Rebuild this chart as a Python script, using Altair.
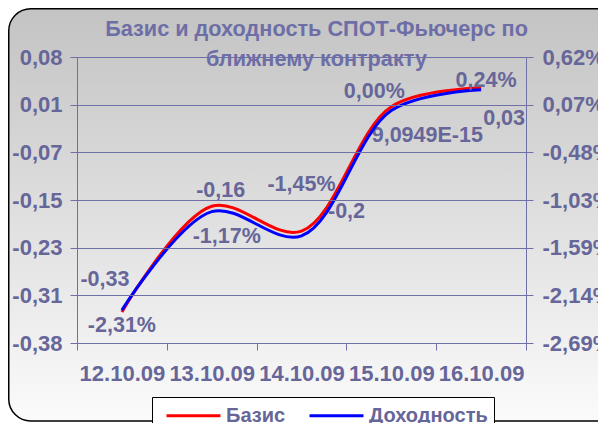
import json
import altair as alt
import numpy as np
import pandas as pd

# ---------------- data ----------------
DATES = ["12.10.09", "13.10.09", "14.10.09", "15.10.09", "16.10.09"]
BASIS = [-0.33, -0.16, -0.2, 9.0949e-15, 0.03]
YIELD_PCT = [-2.31, -1.17, -1.45, 0.00, 0.24]
SERIES = ["Базис", "Доходность"]
LEFT_TICK_LABELS = ["-0,38", "-0,31", "-0,23", "-0,15", "-0,07", "0,01", "0,08"]
RIGHT_TICK_LABELS = ["-2,69%", "-2,14%", "-1,59%", "-1,03%", "-0,48%", "0,07%", "0,62%"]
TITLE_LINES = ["Базис и доходность СПОТ-Фьючерс по", "ближнему контракту"]

LEFT_MIN, LEFT_MAX = -0.38, 0.08
RIGHT_MIN, RIGHT_MAX = -2.69, 0.62

# ---------------- styling ----------------
W, H = 449, 286
PAD_L, PAD_T = 69, 49
CANVAS_W, CANVAS_H = 590, 415
FONT = "Liberation Sans"
TXT = "#666699"
GRID = "#7070a8"
FS_AX = 22
FS_TITLE = 21.7
FS_LBL = 21.5
FS_LEG = 20

BASIS_LABEL_OFFSETS = [(-17, -32), (9, -15), (45, -19), (36, 29), (23, 31)]
YIELD_LABEL_OFFSETS = [(0, 16), (15, 25), (0, -51), (-17, -19), (5, -9)]


def basis_label(v):
    if v != 0 and abs(v) < 1e-6:
        s = f"{v:.4E}"
        mant, exp = s.split("E")
        s = mant + "E" + ("-" if exp.startswith("-") else "") + exp.lstrip("+-").lstrip("0")
    else:
        s = f"{round(v, 2):g}"
    return s.replace(".", ",")


def yield_label(v):
    return f"{v:.2f}%".replace(".", ",")


basis_df = pd.DataFrame({"date": DATES, "value": BASIS, "series": SERIES[0],
                         "label": [basis_label(v) for v in BASIS]})
yield_df = pd.DataFrame({"date": DATES, "value": YIELD_PCT, "series": SERIES[1],
                         "label": [yield_label(v) for v in YIELD_PCT]})

left_vals = list(np.linspace(LEFT_MIN, LEFT_MAX, len(LEFT_TICK_LABELS)))
right_vals = list(np.linspace(RIGHT_MIN, RIGHT_MAX, len(RIGHT_TICK_LABELS)))
left_step = (LEFT_MAX - LEFT_MIN) / (len(LEFT_TICK_LABELS) - 1)
right_step = (RIGHT_MAX - RIGHT_MIN) / (len(RIGHT_TICK_LABELS) - 1)
left_expr = f"{json.dumps(LEFT_TICK_LABELS)}[round((datum.value - ({LEFT_MIN})) / {left_step})]"
right_expr = f"{json.dumps(RIGHT_TICK_LABELS)}[round((datum.value - ({RIGHT_MIN})) / {right_step})]"

x_enc = alt.X(
    "date:N",
    sort=DATES,
    bandPosition=0.5,
    scale=alt.Scale(type="band", paddingInner=0, paddingOuter=0, domain=DATES),
    axis=alt.Axis(title=None, tickBand="extent", grid=False, domainColor=GRID,
                  tickColor=GRID, tickSize=7, labelPadding=13, labelAngle=0,
                  labelFont=FONT, labelFontSize=FS_AX, labelFontWeight="bold",
                  labelColor=TXT, zindex=1),
)

color_enc = alt.Color(
    "series:N",
    scale=alt.Scale(domain=SERIES, range=["#ff0000", "#0000ff"]),
    legend=alt.Legend(
        title=None, orient="none", legendX=75, legendY=340, direction="horizontal",
        fillColor="white", strokeColor="black", padding=6,
        symbolType="M-2.5,0H2.5", symbolSize=466, symbolStrokeWidth=3,
        symbolOffset=23, labelOffset=20, columnPadding=15,
        labelExpr="datum.label + '\u00a0'",
        labelFont=FONT, labelFontSize=FS_LEG, labelFontWeight="bold", labelColor=TXT,
    ),
)

left_axis = alt.Axis(title=None, orient="left", values=left_vals, labelExpr=left_expr,
                     grid=True, gridColor=GRID, gridWidth=1, domainColor=GRID,
                     tickColor=GRID, tickSize=7, labelPadding=8,
                     labelFont=FONT, labelFontSize=FS_AX, labelFontWeight="bold",
                     labelColor=TXT, zindex=1)
right_axis = alt.Axis(title=None, orient="right", values=right_vals, labelExpr=right_expr,
                      grid=False, domainColor=GRID, tickColor=GRID, tickSize=7,
                      labelPadding=9, labelFont=FONT, labelFontSize=FS_AX,
                      labelFontWeight="bold", labelColor=TXT, zindex=1)

left_scale = alt.Scale(domain=[LEFT_MIN, LEFT_MAX], nice=False, zero=False)
right_scale = alt.Scale(domain=[RIGHT_MIN, RIGHT_MAX], nice=False, zero=False)

# background panel with gradient and rounded border
bg = alt.Chart(pd.DataFrame({"k": [0]})).mark_rect(
    color=alt.Gradient(gradient="linear", x1=0, y1=0, x2=0, y2=1,
                       stops=[alt.GradientStop(offset=0, color="#c3c3c3"),
                              alt.GradientStop(offset=1, color="#fbfbfb")]),
    stroke="black", strokeWidth=1.5, cornerRadius=22,
).encode(
    x=alt.value(-PAD_L + 0.75), x2=alt.value(CANVAS_W - PAD_L + 20),
    y=alt.value(-PAD_T + 0.75), y2=alt.value(364),
)

basis_line = alt.Chart(basis_df).mark_line(interpolate="catmull-rom", strokeWidth=3).encode(
    x=x_enc, y=alt.Y("value:Q", scale=left_scale, axis=left_axis), color=color_enc,
)
basis_labels = [
    alt.Chart(basis_df.iloc[[i]]).mark_text(
        dx=dx, dy=dy, font=FONT, fontSize=FS_LBL, fontWeight="bold", color=TXT
    ).encode(x=x_enc, y=alt.Y("value:Q", scale=left_scale, axis=left_axis), text="label:N")
    for i, (dx, dy) in enumerate(BASIS_LABEL_OFFSETS)
]
basis_layer = alt.layer(basis_line, *basis_labels)

yield_line = alt.Chart(yield_df).mark_line(interpolate="catmull-rom", strokeWidth=3).encode(
    x=x_enc, y=alt.Y("value:Q", scale=right_scale, axis=right_axis), color=color_enc,
)
yield_labels = [
    alt.Chart(yield_df.iloc[[i]]).mark_text(
        dx=dx, dy=dy, font=FONT, fontSize=FS_LBL, fontWeight="bold", color=TXT
    ).encode(x=x_enc, y=alt.Y("value:Q", scale=right_scale, axis=right_axis), text="label:N")
    for i, (dx, dy) in enumerate(YIELD_LABEL_OFFSETS)
]
yield_layer = alt.layer(yield_line, *yield_labels)

chart = alt.layer(bg, basis_layer, yield_layer).resolve_scale(y="independent").properties(
    width=W, height=H,
    title=alt.TitleParams(text=TITLE_LINES, anchor="middle", frame="group", dx=15,
                          offset=0, dy=85, baseline="bottom", font=FONT, fontSize=FS_TITLE,
                          fontWeight="bold", color="#6e6ea6", lineHeight=30, zindex=1),
    autosize=alt.AutoSizeParams(type="none"),
    padding={"left": PAD_L, "top": PAD_T,
             "right": CANVAS_W - PAD_L - W, "bottom": CANVAS_H - PAD_T - H},
).configure_view(stroke=None).configure(background="white")

chart.save("out.html", embed_options={"renderer": "svg", "actions": False})
